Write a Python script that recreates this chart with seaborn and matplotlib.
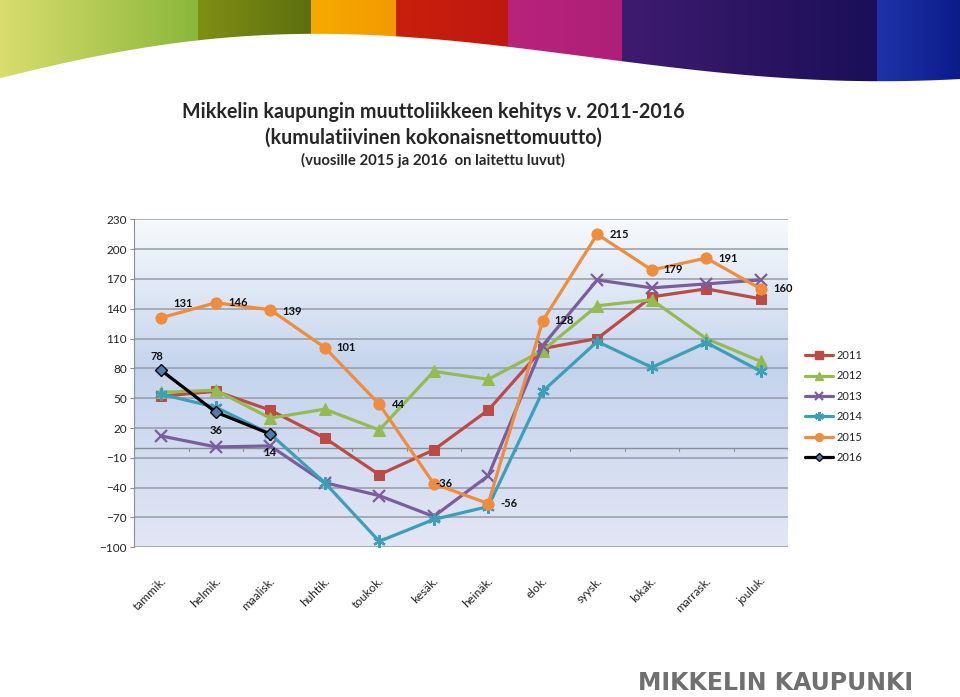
import numpy as np
import seaborn as sns
import matplotlib.pyplot as plt
from matplotlib.lines import Line2D
from matplotlib.colors import to_rgb

# --- data ---
months = ['tammik.', 'helmik.', 'maalisk.', 'huhtik.', 'toukok.', 'kesäk.',
          'heinäk.', 'elok.', 'syysk.', 'lokak.', 'marrask.', 'jouluk.']
y2011 = [52, 57, 38, 10, -27, -2, 38, 100, 110, 152, 160, 150]
y2012 = [56, 58, 30, 39, 18, 77, 69, 98, 143, 149, 110, 87]
y2013 = [12, 1, 2, -35, -48, -69, -28, 103, 169, 161, 165, 169]
y2014 = [54, 41, 14, -35, -94, -72, -59, 57, 107, 81, 106, 77]
y2015 = [131, 146, 139, 101, 44, -36, -56, 128, 215, 179, 191, 160]
y2016 = [78, 36, 14]
series_names = ['2011', '2012', '2013', '2014', '2015', '2016']
yticks = list(range(-100, 231, 30))

title1 = 'Mikkelin kaupungin muuttoliikkeen kehitys v. 2011-2016'
title2 = '(kumulatiivinen kokonaisnettomuutto)'
title3 = '(vuosille 2015 ja 2016  on laitettu luvut)'
logo = 'MIKKELIN KAUPUNKI'

sns.set_style('white')
plt.rcParams['font.family'] = ['Lato', 'DejaVu Sans']

fig = plt.figure(figsize=(9.6, 6.97), dpi=100)

# --- decorative banner at the top ---
bax = fig.add_axes([0, 1 - 90 / 697, 1, 90 / 697])
W, H = 960, 90
bands = [(0, 198, '#d9dd6e', '#8bb73b'), (198, 311, '#808f14', '#5d6f10'),
         (311, 396, '#f6aa00', '#f29a00'), (396, 508, '#c9200c', '#bf1810'),
         (508, 622, '#b8237c', '#ae1f77'), (622, 877, '#3f1b6f', '#1a0f58'),
         (877, 960, '#1f33a8', '#0b1b8a')]
img = np.ones((H, W, 4))
xs = np.arange(W)
for x0, x1, c0, c1 in bands:
    seg = (xs >= x0) & (xs < x1)
    t = (xs[seg] - x0) / max(x1 - x0 - 1, 1)
    col = np.outer(1 - t, to_rgb(c0)) + np.outer(t, to_rgb(c1))
    img[:, seg, :3] = col[None, :, :]
kx = [0, 100, 198, 312, 400, 508, 622, 750, 876, 960]
ky = [77, 57, 38, 32, 38, 47, 60, 74, 82, 78]
edge = np.polyval(np.polyfit(kx, ky, 5), xs)
rows = np.arange(H)[:, None]
img[..., 3] = np.clip(edge[None, :] - rows + 0.5, 0, 1)
bax.imshow(img, extent=[0, W, H, 0], aspect='auto', interpolation='bilinear')
bax.set_xlim(0, W)
bax.set_ylim(H, 0)
bax.axis('off')

# --- titles ---
fig.text(433 / 960, 1 - 112 / 697, title1, ha='center', va='center',
         fontsize=14.1, fontweight='bold')
fig.text(433 / 960, 1 - 138 / 697, title2, ha='center', va='center',
         fontsize=14.1, fontweight='bold')
fig.text(433 / 960, 1 - 160 / 697, title3, ha='center', va='center',
         fontsize=10.7, fontweight='bold')

# --- main chart ---
ax = fig.add_axes([134 / 960, 1 - 547.3 / 697, (788 - 134) / 960, (547.3 - 219.3) / 697])

top = np.array([0.97, 0.98, 0.99])
mid = np.array([0.77, 0.83, 0.93])
bot = np.array([0.89, 0.90, 0.96])
vals = np.linspace(230, -100, 200)
bg = np.where(vals[:, None] > 80,
              top + (mid - top) * ((230 - vals[:, None]) / 150),
              mid + (bot - mid) * ((80 - vals[:, None]) / 180))
ax.imshow(bg[:, None, :].repeat(2, axis=1), extent=[-0.5, 11.5, -100, 230],
          aspect='auto', zorder=0)

for yv in yticks:
    ax.axhline(yv, color='#959ca6', linewidth=1.1, zorder=1)

styles = {
    '2011': dict(color='#bc4a45', marker='s', markersize=7.5),
    '2012': dict(color='#95bb50', marker='^', markersize=8),
    '2013': dict(color='#7b5d9e', marker='x', markersize=8, markeredgewidth=1.6),
    '2014': dict(color='#3c9fb8', marker=(6, 2, 0), markersize=9, markeredgewidth=1.6),
    '2015': dict(color='#ef8c3d', marker='o', markersize=8),
    '2016': dict(color='black', marker='D', markersize=6,
                 markerfacecolor='#4f7bb0', markeredgecolor='black', markeredgewidth=1),
}
all_series = [y2011, y2012, y2013, y2014, y2015, y2016]
for name, vals_s in zip(series_names, all_series):
    st = dict(styles[name])
    if name != '2016':
        st.setdefault('markeredgecolor', st['color'])
    sns.lineplot(x=np.arange(len(vals_s)), y=vals_s, ax=ax, linewidth=2.3,
                 label=name, zorder=3, **st)

# data labels
lbl_kw = dict(textcoords='offset points', fontsize=8, fontweight='bold',
              va='center', ha='center', zorder=5, color='#111111')
off2015 = [(16, 10), (16, 0), (16, -1), (15, 0), (14, 0), (7, 0), (15, 0),
           (15, 0), (16, 0), (15, 0), (16, 0), (16, 0)]
for i, v in enumerate(y2015):
    ax.annotate(str(v), (i, v), xytext=off2015[i], **lbl_kw)
off2016 = [(-3, 10), (0, -13), (0, -13)]
for i, v in enumerate(y2016):
    ax.annotate(str(v), (i, v), xytext=off2016[i], **lbl_kw)

ax.set_xlim(-0.5, 11.5)
ax.set_ylim(-100, 230)
ax.set_yticks(yticks)
ax.tick_params(axis='y', length=3, width=0.8, color='#8a8f96', pad=2,
               labelsize=8.5, labelcolor='#222222', left=True)

# x axis line at zero with boundary ticks
ax.axhline(0, color='#8a8f96', linewidth=1.0, zorder=2)
for b in np.arange(-0.5, 12, 1.0):
    ax.plot([b, b], [0, -3], color='#8a8f96', linewidth=0.8, zorder=2)
ax.set_xticks([])
for i, m in enumerate(months):
    ax.annotate(m, xy=(i, 0), xycoords=('data', 'axes fraction'),
                xytext=(2, -23), textcoords='offset points', rotation=45,
                rotation_mode='anchor', ha='right', va='center', fontsize=8.5,
                color='#222222')

for s in ['top', 'right', 'bottom']:
    ax.spines[s].set_visible(False)
ax.spines['left'].set_color('#8a8f96')
ax.set_xlabel('')
ax.set_ylabel('')

leg_handles = []
for name in series_names:
    st = dict(styles[name])
    ms = st.pop('markersize') * 0.7
    if name != '2016':
        st.setdefault('markeredgecolor', st['color'])
    leg_handles.append(Line2D([], [], linewidth=2.3, markersize=ms, **st))
ax.legend(leg_handles, series_names, loc='upper left',
          bbox_to_anchor=(805 / 960, 1 - 350 / 697), bbox_transform=fig.transFigure,
          frameon=False, fontsize=8, labelspacing=0.85, handlelength=2.5,
          handletextpad=0.3, borderaxespad=0, borderpad=0)

fig.text(913 / 960, 1 - 683 / 697, logo, ha='right', va='center',
         fontsize=17, fontweight='bold', color='#707070',
         family=['Liberation Sans Narrow', 'DejaVu Sans'])

fig.savefig('out.png', dpi=100)
